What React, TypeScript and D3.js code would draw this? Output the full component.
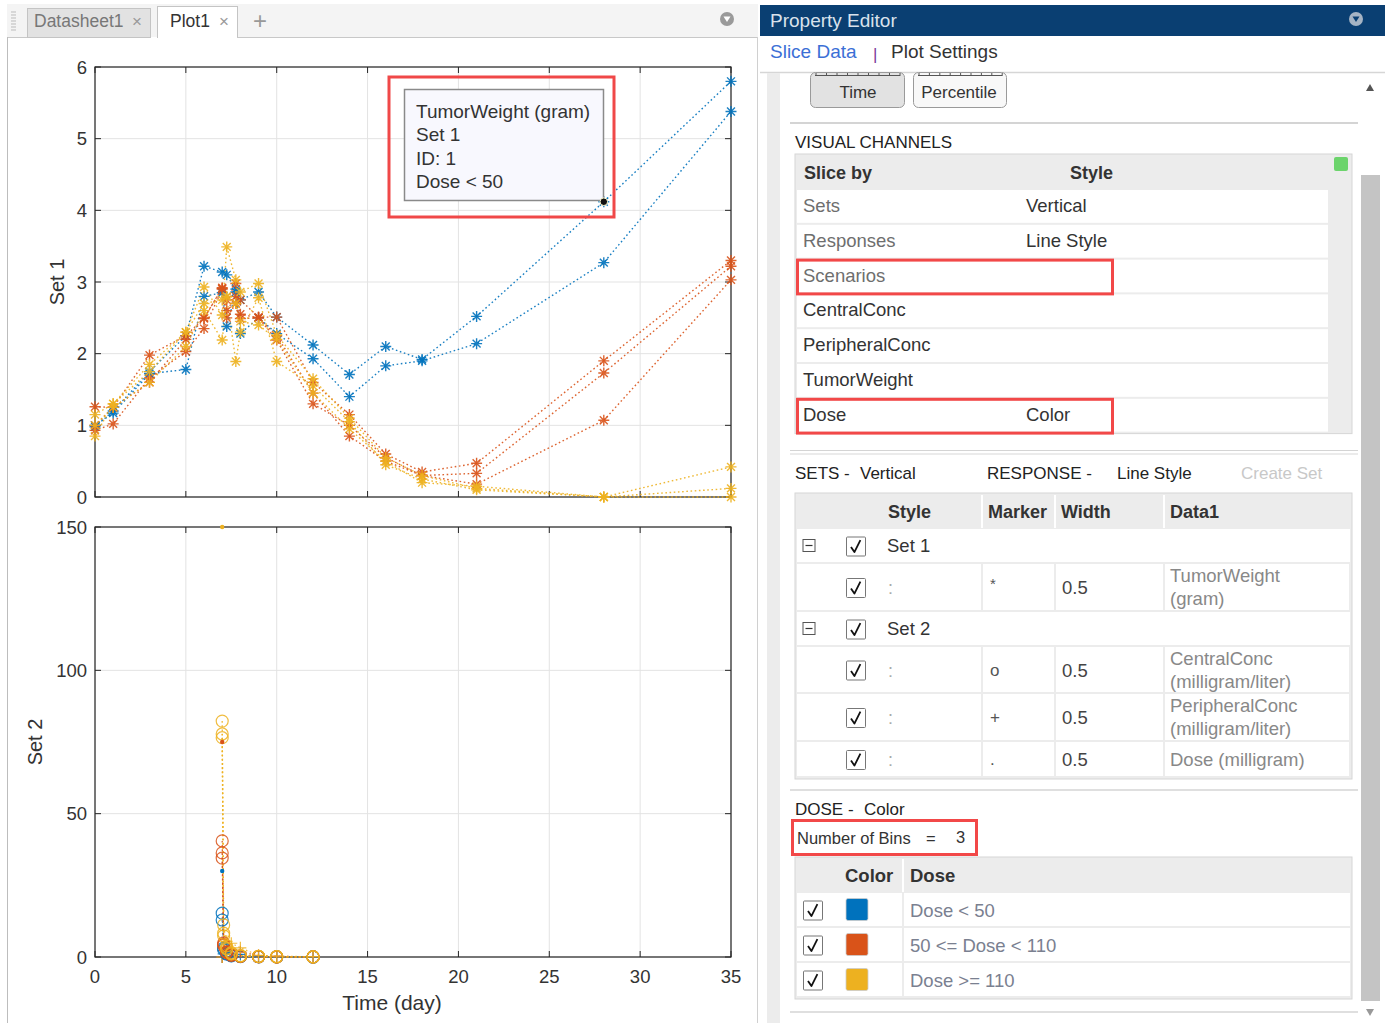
import React from 'react';
import * as d3 from 'd3';

const FONT = "'Liberation Sans', Arial, Helvetica, sans-serif";

// ---------- DATA ----------
const xTicks = [0, 5, 10, 15, 20, 25, 30, 35];
const set1Ticks = [0, 1, 2, 3, 4, 5, 6];
const set2Ticks = [0, 50, 100, 150];

const binLabels = ['Dose < 50', '50 <= Dose < 110', 'Dose >= 110'];
const binColors = ['#0072BD', '#D95319', '#EDB120'];

// Set 1 : TumorWeight (gram)
const tumorTimes = [0, 1, 3, 5, 6, 7, 7.25, 7.75, 8, 9, 10, 12, 14, 16, 18, 21, 28, 35];
const tumorLowA = [0.98, 1.2, 1.75, 2.25, 3.22, 3.14, 3.1, 2.9, 2.75, 2.86, 2.51, 2.12, 1.71, 2.1, 1.92, 2.52, 4.12, 5.8];
const tumorLowB = [1.0, 1.17, 1.72, 1.78, 2.8, 2.85, 2.38, 2.86, 2.28, 2.5, 2.28, 1.93, 1.4, 1.83, 1.9, 2.14, 3.27, 5.38];
const tumorMidA = [1.26, 1.25, 1.98, 2.25, 2.5, 2.91, 2.75, 2.98, 2.75, 2.51, 2.51, 1.6, 1.15, 0.6, 0.35, 0.47, 1.9, 3.3];
const tumorMidB = [0.93, 1.02, 1.66, 2.03, 2.35, 2.9, 2.5, 2.7, 2.49, 2.5, 2.19, 1.3, 1.0, 0.55, 0.3, 0.33, 1.73, 3.22];
const tumorMidC = [1.0, 1.25, 1.6, 2.2, 2.49, 2.92, 2.6, 2.8, 2.55, 2.5, 2.25, 1.45, 0.85, 0.5, 0.3, 0.18, 1.07, 3.03];
const tumorHighA = [0.85, 1.3, 1.85, 2.3, 2.93, 2.54, 3.49, 3.03, 2.86, 2.98, 2.26, 1.65, 1.1, 0.55, 0.3, 0.12, 0.0, 0.42];
const tumorHighB = [1.0, 1.25, 1.6, 2.1, 2.6, 2.19, 2.79, 1.89, 2.3, 2.78, 1.89, 1.55, 1.05, 0.45, 0.25, 0.1, 0.0, 0.12];
const tumorHighC = [1.15, 1.3, 1.75, 2.3, 2.7, 2.75, 2.8, 2.7, 2.45, 2.4, 2.2, 1.45, 0.95, 0.5, 0.2, 0.15, 0.0, 0.0];

// Set 2 : CentralConc, PeripheralConc (milligram/liter), Dose (milligram)
const concTimes = [7, 7.08, 7.25, 7.5, 8, 9, 10, 12];
const centralLowA = [15.3, 3.1, 1.2, 0.5, 0.2, 0.08, 0.04, 0.01];
const centralLowB = [12.9, 2.6, 1.0, 0.4, 0.15, 0.06, 0.03, 0.01];
const centralMidA = [40.5, 4.9, 1.8, 0.8, 0.3, 0.12, 0.06, 0.02];
const centralMidB = [36.3, 4.4, 1.6, 0.7, 0.25, 0.1, 0.05, 0.02];
const centralMidC = [34.5, 4.1, 1.5, 0.6, 0.2, 0.09, 0.04, 0.02];
const centralHighA = [82.3, 11.2, 3.9, 1.5, 0.5, 0.2, 0.1, 0.04];
const centralHighB = [77.8, 8.3, 3.1, 1.2, 0.4, 0.18, 0.09, 0.03];
const centralHighC = [76.5, 7.4, 2.8, 1.1, 0.35, 0.15, 0.08, 0.03];
const peripheralLow = [0, 1.1, 1.5, 1.3, 0.9, 0.3, 0.15, 0.05];
const peripheralMid = [0, 2.2, 3.0, 2.6, 1.8, 0.5, 0.25, 0.08];
const peripheralHigh = [0, 3.5, 5.5, 4.8, 3.2, 0.6, 0.3, 0.1];
const doseTime = 7;
const doseLow = 30;
const doseMid = 75;
const doseHigh = 150;

const tooltipLines = ['TumorWeight (gram)', 'Set 1', 'ID: 1', 'Dose < 50'];
const tooltipPoint = { t: 28, v: 4.12 };

// Property editor text content
const channelRows = ['Sets', 'Responses', 'Scenarios', 'CentralConc', 'PeripheralConc', 'TumorWeight', 'Dose'];
const channelStyles = ['Vertical', 'Line Style', '', '', '', '', 'Color'];
const setRows = [
  { kind: 'set', label: 'Set 1' },
  { kind: 'resp', marker: '*', width: '0.5', data: ['TumorWeight', '(gram)'] },
  { kind: 'set', label: 'Set 2' },
  { kind: 'resp', marker: 'o', width: '0.5', data: ['CentralConc', '(milligram/liter)'] },
  { kind: 'resp', marker: '+', width: '0.5', data: ['PeripheralConc', '(milligram/liter)'] },
  { kind: 'resp', marker: '.', width: '0.5', data: ['Dose (milligram)'] },
];

// ---------- BUILT TABLES ----------
const tumorSeries = [
  { bin: 0, values: tumorLowA }, { bin: 0, values: tumorLowB },
  { bin: 1, values: tumorMidA }, { bin: 1, values: tumorMidB }, { bin: 1, values: tumorMidC },
  { bin: 2, values: tumorHighA }, { bin: 2, values: tumorHighB }, { bin: 2, values: tumorHighC },
];
const centralSeries = [
  { bin: 0, values: centralLowA }, { bin: 0, values: centralLowB },
  { bin: 1, values: centralMidA }, { bin: 1, values: centralMidB }, { bin: 1, values: centralMidC },
  { bin: 2, values: centralHighA }, { bin: 2, values: centralHighB }, { bin: 2, values: centralHighC },
];
const peripheralSeries = [
  { bin: 0, values: peripheralLow }, { bin: 1, values: peripheralMid }, { bin: 2, values: peripheralHigh },
];
const doseSeries = [
  { bin: 0, value: doseLow }, { bin: 1, value: doseMid }, { bin: 2, value: doseHigh },
];

// ---------- SCALES ----------
const x = d3.scaleLinear().domain([0, 35]).range([95, 731]);
const y1 = d3.scaleLinear().domain([0, 6]).range([497, 67]);
const y2 = d3.scaleLinear().domain([0, 150]).range([957, 527]);

const AXIS = '#262626';
const GRID = '#e3e3e3';

function asterisk(r: number) {
  const d = r * 0.72;
  return `M${-r},0H${r}M0,${-r}V${r}M${-d},${-d}L${d},${d}M${-d},${d}L${d},${-d}`;
}
function plus(r: number) {
  return `M${-r},0H${r}M0,${-r}V${r}`;
}

function Axes({ y, ticks, top, bottom, showXLabels }: any) {
  const L = 95, R = 731;
  return (
    <g>
      {xTicks.map((t) => (
        <line key={'gx' + t} x1={x(t)} x2={x(t)} y1={top} y2={bottom} stroke={GRID} strokeWidth={1} />
      ))}
      {ticks.map((t: number) => (
        <line key={'gy' + t} x1={L} x2={R} y1={y(t)} y2={y(t)} stroke={GRID} strokeWidth={1} />
      ))}
      <rect x={L} y={top} width={R - L} height={bottom - top} fill="none" stroke={AXIS} strokeWidth={1.2} />
      {xTicks.map((t) => (
        <g key={'tx' + t}>
          <line x1={x(t)} x2={x(t)} y1={bottom} y2={bottom - 6} stroke={AXIS} />
          <line x1={x(t)} x2={x(t)} y1={top} y2={top + 6} stroke={AXIS} />
        </g>
      ))}
      {ticks.map((t: number) => (
        <g key={'ty' + t}>
          <line x1={L} x2={L + 6} y1={y(t)} y2={y(t)} stroke={AXIS} />
          <line x1={R} x2={R - 6} y1={y(t)} y2={y(t)} stroke={AXIS} />
          <text x={87} y={y(t) + 6.5} textAnchor="end" fontSize={18.5} fill="#333">{t}</text>
        </g>
      ))}
      {showXLabels && xTicks.map((t) => (
        <text key={'lx' + t} x={x(t)} y={983} textAnchor="middle" fontSize={18.5} fill="#333">{t}</text>
      ))}
    </g>
  );
}

function Checkbox({ cx, cy, size = 20 }: any) {
  const s = size;
  return (
    <g transform={`translate(${cx - s / 2},${cy - s / 2})`}>
      <rect x={0.5} y={0.5} width={s - 1} height={s - 1} fill="#fff" stroke="#777" strokeWidth={1} rx={1} />
      <path d={`M${s * 0.25},${s * 0.52} L${s * 0.42},${s * 0.78} L${s * 0.72},${s * 0.18}`} fill="none" stroke="#111" strokeWidth={1.8} strokeLinejoin="round" />
    </g>
  );
}

function Collapse({ cx, cy }: any) {
  return (
    <g>
      <rect x={cx - 6} y={cy - 6} width={12} height={12} fill="#fff" stroke="#555" strokeWidth={1} />
      <line x1={cx - 3.5} x2={cx + 3.5} y1={cy} y2={cy} stroke="#333" strokeWidth={1.2} />
    </g>
  );
}

function Tabs() {
  return (
    <g>
      <rect x={7} y={4} width={751} height={33} fill="#f4f4f4" />
      {[0, 1, 2, 3, 4, 5, 6].map((i) => (
        <line key={i} x1={11} x2={16} y1={12 + i * 3} y2={12 + i * 3} stroke="#bbb" strokeWidth={1} />
      ))}
      <rect x={27.5} y={8.5} width={123} height={29} fill="#e2e2e2" stroke="#c4c4c4" />
      <text x={34} y={27} fontSize={17.5} fill="#777">Datasheet1</text>
      <text x={132} y={27} fontSize={17} fill="#999">×</text>
      <rect x={157.5} y={6.5} width={80} height={31} fill="#fff" stroke="#c4c4c4" />
      <line x1={158} x2={237} y1={37} y2={37} stroke="#fff" strokeWidth={2} />
      <text x={170} y={27} fontSize={17.5} fill="#333">Plot1</text>
      <text x={219} y={27} fontSize={17} fill="#999">×</text>
      <text x={260} y={29} fontSize={24} fill="#999" textAnchor="middle">+</text>
      <line x1={237} x2={757} y1={37.5} y2={37.5} stroke="#c8c8c8" />
      <line x1={7} x2={27} y1={37.5} y2={37.5} stroke="#c8c8c8" />
      <circle cx={727} cy={19} r={7} fill="#9a9a9a" />
      <path d="M723.5,16.5 L730.5,16.5 L727,22 Z" fill="#fff" />
      <line x1={7.5} x2={7.5} y1={37} y2={1023} stroke="#bdbdbd" />
      <line x1={757.5} x2={757.5} y1={37} y2={1023} stroke="#d0d0d0" />
    </g>
  );
}

function PlotArea() {
  const line1 = d3.line<number>().x((_, i) => x(tumorTimes[i])).y((v) => y1(v));
  const line2 = d3.line<number>().x((_, i) => x(concTimes[i])).y((v) => y2(v));
  const dash = '1.6,2.6';
  return (
    <g>
      <Axes y={y1} ticks={set1Ticks} top={67} bottom={497} showXLabels={false} />
      <Axes y={y2} ticks={set2Ticks} top={527} bottom={957} showXLabels={true} />
      <text transform="translate(64,282) rotate(-90)" textAnchor="middle" fontSize={20} fill="#333">Set 1</text>
      <text transform="translate(42,742) rotate(-90)" textAnchor="middle" fontSize={20} fill="#333">Set 2</text>
      <text x={392} y={1010} textAnchor="middle" fontSize={21} fill="#333">Time (day)</text>

      {/* Set 1 */}
      <g>
        {tumorSeries.map((s, i) => (
          <path key={'tl' + i} d={line1(s.values) || ''} fill="none" stroke={binColors[s.bin]} strokeWidth={1.4} strokeDasharray={dash} opacity={0.9} />
        ))}
        {tumorSeries.map((s, i) => (
          <g key={'tm' + i}>
            {s.values.map((v, j) => (
              <path key={j} transform={`translate(${x(tumorTimes[j])},${y1(v)})`} d={asterisk(5.5)} stroke={binColors[s.bin]} strokeWidth={1.4} fill="none" opacity={0.9} />
            ))}
          </g>
        ))}
      </g>

      {/* Set 2 */}
      <g>
        {peripheralSeries.map((s, i) => (
          <path key={'pl' + i} d={line2(s.values) || ''} fill="none" stroke={binColors[s.bin]} strokeWidth={1.2} strokeDasharray={dash} opacity={0.85} />
        ))}
        {centralSeries.map((s, i) => (
          <path key={'cl' + i} d={line2(s.values) || ''} fill="none" stroke={binColors[s.bin]} strokeWidth={1.3} strokeDasharray={dash} opacity={0.9} />
        ))}
        {peripheralSeries.map((s, i) => (
          <g key={'pm' + i}>
            {s.values.map((v, j) => (
              <path key={j} transform={`translate(${x(concTimes[j])},${y2(v)})`} d={plus(6)} stroke={binColors[s.bin]} strokeWidth={1.2} fill="none" opacity={0.85} />
            ))}
          </g>
        ))}
        {centralSeries.map((s, i) => (
          <g key={'cm' + i}>
            {s.values.map((v, j) => (
              <circle key={j} cx={x(concTimes[j])} cy={y2(v)} r={6} stroke={binColors[s.bin]} strokeWidth={1.2} fill="none" opacity={0.85} />
            ))}
          </g>
        ))}
        {doseSeries.map((s, i) => (
          <circle key={'d' + i} cx={x(doseTime)} cy={y2(s.value)} r={2.2} fill={binColors[s.bin]} />
        ))}
      </g>

      {/* data tip */}
      <rect x={404.5} y={89.5} width={199} height={111} fill="#f8f8fe" stroke="#8a8a8a" strokeWidth={1.5} />
      {tooltipLines.map((t, i) => (
        <text key={t} x={416} y={118 + i * 23.4} fontSize={19} fill="#333">{t}</text>
      ))}
      <circle cx={x(tooltipPoint.t)} cy={y1(tooltipPoint.v)} r={3.8} fill="#111" stroke="#fffbd0" strokeWidth={1} />
      <rect x={389} y={77} width={225} height={140} fill="none" stroke="#f04848" strokeWidth={3} />
    </g>
  );
}

function PropertyEditor() {
  const TL = 795, TR = 1352;
  // Visual channels table
  const vcTop = 155, vcHead = 34, vcRow = 34.8;
  // Sets table
  const stTop = 493, stHead = 35;
  const stHeights = [35, 48, 35, 47, 48, 36];
  const stY: number[] = [];
  let acc = stTop + stHead;
  stHeights.forEach((h) => { stY.push(acc); acc += h; });
  const stBottom = acc;
  // Dose table
  const dtTop = 857, dtHead = 35, dtRow = 35;

  return (
    <g>
      <rect x={760} y={4} width={625} height={1019} fill="#fff" />
      <rect x={760} y={5} width={625} height={31} fill="#0a3f72" />
      <text x={770} y={27} fontSize={19} fill="#d9e2ec">Property Editor</text>
      <circle cx={1356} cy={19} r={7} fill="#a6b4c4" />
      <path d="M1352.5,16.5 L1359.5,16.5 L1356,22 Z" fill="#0a3f72" />

      <text x={770} y={58} fontSize={19} fill="#3b6fd6">Slice Data</text>
      <text x={873} y={60} fontSize={17} fill="#7b3a9a">|</text>
      <text x={891} y={58} fontSize={19} fill="#333">Plot Settings</text>
      <line x1={760} x2={1385} y1={72.5} y2={72.5} stroke="#d6d6d6" strokeWidth={1.5} />

      {/* scroll area sides */}
      <rect x={767} y={73} width={13} height={950} fill="#ececec" />
      <rect x={1361} y={175} width={19} height={826} fill="#c4c4c4" />
      <path d="M1366,91 L1374,91 L1370,84 Z" fill="#555" />
      <path d="M1366,1009 L1374,1009 L1370,1016 Z" fill="#999" />

      {/* buttons */}
      <rect x={810.5} y={72.5} width={94} height={35} rx={5} fill="#e2e2e2" stroke="#9a9a9a" />
      <rect x={913.5} y={72.5} width={93} height={35} rx={5} fill="#f8f8f8" stroke="#9a9a9a" />
      <line x1={815} x2={900} y1={75.5} y2={75.5} stroke="#555" />
      <line x1={918} x2={1002} y1={75.5} y2={75.5} stroke="#555" />
      {d3.range(0, 9).map((i) => (
        <g key={'rt' + i}>
          <line x1={816 + i * 10.5} x2={816 + i * 10.5} y1={73} y2={76} stroke="#555" />
          <line x1={919 + i * 10.4} x2={919 + i * 10.4} y1={73} y2={76} stroke="#555" />
        </g>
      ))}
      <text x={858} y={98} fontSize={17} fill="#333" textAnchor="middle">Time</text>
      <text x={959} y={98} fontSize={17} fill="#333" textAnchor="middle">Percentile</text>

      <line x1={790} x2={1358} y1={123} y2={123} stroke="#d4d4d4" strokeWidth={2} />
      <text x={795} y={148} fontSize={17} fill="#222">VISUAL CHANNELS</text>

      {/* visual channels table */}
      <rect x={TL} y={vcTop - 1} width={TR - TL} height={vcHead + vcRow * channelRows.length + 2} fill="#ececec" stroke="#d6d6d6" />
      <text x={804} y={vcTop + 24} fontSize={18} fontWeight="bold" fill="#333">Slice by</text>
      <text x={1070} y={vcTop + 24} fontSize={18} fontWeight="bold" fill="#333">Style</text>
      <rect x={1334} y={157} width={14} height={14} rx={2} fill="#6cd46c" />
      {channelRows.map((r, i) => {
        const y0 = vcTop + vcHead + i * vcRow;
        return (
          <g key={r}>
            <rect x={TL + 2} y={y0 + 1} width={1328 - TL - 2} height={vcRow - 2} fill="#fff" />
            <text x={803} y={y0 + 23} fontSize={18.5} fill={i < 3 ? '#6e6e6e' : '#333'}>{r}</text>
            <text x={1026} y={y0 + 23} fontSize={18.5} fill="#333">{channelStyles[i]}</text>
          </g>
        );
      })}
      <rect x={797.5} y={vcTop + vcHead + 2 * vcRow + 1.5} width={315} height={vcRow - 1} fill="none" stroke="#f24848" strokeWidth={3} />
      <rect x={797.5} y={vcTop + vcHead + 6 * vcRow + 1.5} width={315} height={vcRow - 1} fill="none" stroke="#f24848" strokeWidth={3} />

      <line x1={790} x2={1358} y1={450.5} y2={450.5} stroke="#d4d4d4" strokeWidth={1} />
      <line x1={790} x2={1358} y1={454} y2={454} stroke="#e4e4e4" strokeWidth={1.5} />
      <text x={795} y={479} fontSize={17} fill="#222">SETS -</text>
      <text x={860} y={479} fontSize={17} fill="#222">Vertical</text>
      <text x={987} y={479} fontSize={17} fill="#222">RESPONSE -</text>
      <text x={1117} y={479} fontSize={17} fill="#222">Line Style</text>
      <text x={1241} y={479} fontSize={17} fill="#c8c8c8">Create Set</text>

      {/* sets table */}
      <rect x={TL} y={stTop} width={TR - TL} height={stBottom - stTop + 2} fill="#ececec" stroke="#d6d6d6" />
      <text x={888} y={stTop + 25} fontSize={18} fontWeight="bold" fill="#333">Style</text>
      <text x={988} y={stTop + 25} fontSize={18} fontWeight="bold" fill="#333">Marker</text>
      <text x={1061} y={stTop + 25} fontSize={18} fontWeight="bold" fill="#333">Width</text>
      <text x={1170} y={stTop + 25} fontSize={18} fontWeight="bold" fill="#333">Data1</text>
      {[982, 1055, 1164].map((xx) => (
        <line key={xx} x1={xx} x2={xx} y1={stTop + 2} y2={stTop + stHead} stroke="#fff" strokeWidth={2} />
      ))}
      {setRows.map((r: any, i) => {
        const y0 = stY[i];
        const h = stHeights[i];
        const cy = y0 + h / 2;
        if (r.kind === 'set') {
          return (
            <g key={i}>
              <rect x={TL + 2} y={y0 + 1} width={TR - TL - 4} height={h - 2} fill="#fff" />
              <Collapse cx={809} cy={cy} />
              <Checkbox cx={856} cy={cy + 1} />
              <text x={887} y={cy + 6} fontSize={18.5} fill="#333">{r.label}</text>
            </g>
          );
        }
        const cells: [number, number][] = [[TL + 2, 982], [983, 1055], [1056, 1164], [1165, TR - 2]];
        return (
          <g key={i}>
            {cells.map(([a, b], k) => (
              <rect key={k} x={a} y={y0 + 1} width={b - a - 1} height={h - 2} fill="#fff" />
            ))}
            <Checkbox cx={856} cy={cy + 1} />
            <text x={888} y={cy + 7} fontSize={18} fill="#aaa">:</text>
            <text x={990} y={cy + (r.marker === '*' ? 2 : 6)} fontSize={r.marker === '*' ? 15 : 17} fill="#555">{r.marker}</text>
            <text x={1062} y={cy + 7} fontSize={18.5} fill="#444">{r.width}</text>
            {r.data.length === 2 ? (
              <g>
                <text x={1170} y={y0 + 19} fontSize={18.5} fill="#888">{r.data[0]}</text>
                <text x={1170} y={y0 + 42} fontSize={18.5} fill="#888">{r.data[1]}</text>
              </g>
            ) : (
              <text x={1170} y={cy + 7} fontSize={18.5} fill="#888">{r.data[0]}</text>
            )}
          </g>
        );
      })}

      <line x1={790} x2={1358} y1={790} y2={790} stroke="#d4d4d4" strokeWidth={1.5} />
      <text x={795} y={815} fontSize={17} fill="#222">DOSE -</text>
      <text x={864} y={815} fontSize={17} fill="#222">Color</text>
      <rect x={792.5} y={820.5} width={184} height={34} fill="none" stroke="#f24848" strokeWidth={3} />
      <text x={797} y={844} fontSize={16.5} fill="#333">Number of Bins</text>
      <text x={926} y={844} fontSize={16.5} fill="#333">=</text>
      <text x={956} y={843} fontSize={16.5} fill="#333">3</text>

      {/* dose table */}
      <rect x={TL} y={dtTop} width={TR - TL} height={dtHead + dtRow * binLabels.length + 2} fill="#ececec" stroke="#d6d6d6" />
      <text x={845} y={dtTop + 25} fontSize={18.5} fontWeight="bold" fill="#333">Color</text>
      <text x={910} y={dtTop + 25} fontSize={18.5} fontWeight="bold" fill="#333">Dose</text>
      <line x1={903} x2={903} y1={dtTop + 2} y2={dtTop + dtHead} stroke="#fff" strokeWidth={2} />
      {binLabels.map((b, i) => {
        const y0 = dtTop + dtHead + i * dtRow;
        const cy = y0 + dtRow / 2;
        return (
          <g key={b}>
            <rect x={TL + 2} y={y0 + 1} width={903 - TL - 3} height={dtRow - 2} fill="#fff" />
            <rect x={904} y={y0 + 1} width={TR - 906} height={dtRow - 2} fill="#fff" />
            <Checkbox cx={813} cy={cy + 1} />
            <rect x={846} y={cy - 11} width={22} height={22} rx={2} fill={binColors[i]} stroke="#ccc" strokeWidth={0.8} />
            <text x={910} y={cy + 7} fontSize={18.5} fill="#7a8090">{b}</text>
          </g>
        );
      })}
      <line x1={790} x2={1358} y1={1012} y2={1012} stroke="#d4d4d4" strokeWidth={1.5} />
    </g>
  );
}

export default function App() {
  return (
    <svg
      width={1385}
      height={1023}
      viewBox="0 0 1385 1023"
      style={{ position: 'absolute', left: 0, top: 0, fontFamily: FONT, background: '#fff' }}
    >
      <rect width={1385} height={1023} fill="#fff" />
      <Tabs />
      <PlotArea />
      <PropertyEditor />
    </svg>
  );
}
